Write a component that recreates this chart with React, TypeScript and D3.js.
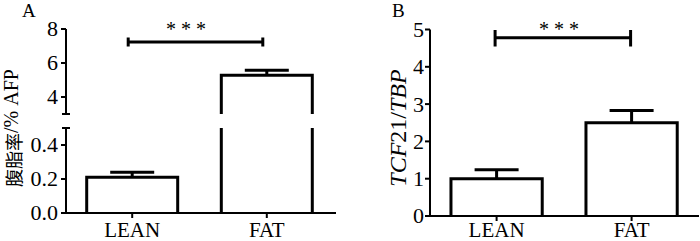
import React from "react";
import * as d3 from "d3";

const categories = ["LEAN", "FAT"];
const afpMeans = [0.21, 5.28];
const afpErrs = [0.03, 0.29];
const tcfMeans = [1.0, 2.5];
const tcfErrs = [0.24, 0.33];
const afpLowerTicks = [0.0, 0.2, 0.4];
const afpUpperTicks = [4, 6, 8];
const tcfTicks = [0, 1, 2, 3, 4, 5];

const FONT = "Liberation Serif";
const CJK = "Noto Sans CJK SC";
const SW = 3;
const TICK_FS = 22;
const CAT_FS = 21;

export default function App() {
  const xA = d3.scaleBand<string>().domain(categories).range([64.9, 334.1]).paddingInner(0.324).paddingOuter(0.162);
  const yLow = d3.scaleLinear().domain([0, 0.5]).range([213, 128]);
  const yUp = d3.scaleLinear().domain([3, 8]).range([114, 29]);
  const axA = 66;

  const xB = d3.scaleBand<string>().domain(categories).range([429.1, 699.1]).paddingInner(0.324).paddingOuter(0.162);
  const yB = d3.scaleLinear().domain([0, 5]).range([216, 29.5]);
  const axB = 430;

  const yA = (v: number) => (v <= 0.5 ? yLow(v) : yUp(v));
  const capW = 44;
  const cA = (c: string) => xA(c)! + xA.bandwidth() / 2;
  const cB = (c: string) => xB(c)! + xB.bandwidth() / 2;

  return (
    <svg width={700} height={241} style={{ position: "fixed", left: 0, top: 0, background: "#fff" }} fontFamily={FONT}>
      <rect width={700} height={241} fill="#fff" />
      <text x={22} y={17} fontSize={19} fontFamily={FONT}>A</text>
      <text x={392} y={17} fontSize={19} fontFamily={FONT}>B</text>

      {/* ===== Panel A ===== */}
      {categories.map((c, i) => {
        const x0 = xA(c)!;
        const x1 = x0 + xA.bandwidth();
        const v = afpMeans[i];
        const base = yLow(0);
        if (v <= 0.5) {
          const yt = yLow(v);
          return <path key={c} d={`M${x0},${base}V${yt}H${x1}V${base}`} fill="none" stroke="#000" strokeWidth={SW} />;
        }
        const yt = yUp(v);
        return (
          <g key={c}>
            <path d={`M${x0},${base}V${yLow(0.5)}M${x1},${base}V${yLow(0.5)}`} fill="none" stroke="#000" strokeWidth={SW} />
            <path d={`M${x0},${yUp(3)}V${yt}H${x1}V${yUp(3)}`} fill="none" stroke="#000" strokeWidth={SW} />
          </g>
        );
      })}
      {categories.map((c, i) => {
        const cx = cA(c);
        const yt = yA(afpMeans[i]);
        const ye = yA(afpMeans[i] + afpErrs[i]);
        return <path key={c} d={`M${cx},${yt}V${ye}M${cx - capW / 2},${ye}H${cx + capW / 2}`} stroke="#000" strokeWidth={SW} fill="none" />;
      })}
      <path d={`M${axA},${yUp(8)}V${yUp(3)}M${axA - 4},${yUp(3)}H${axA + 4}`} stroke="#000" strokeWidth={2} fill="none" />
      <path d={`M${axA},${yLow(0.5)}V${yLow(0)}M${axA - 4},${yLow(0.5)}H${axA + 4}`} stroke="#000" strokeWidth={2} fill="none" />
      {afpUpperTicks.map((t) => (
        <g key={"u" + t}>
          <line x1={axA - 5} x2={axA} y1={yUp(t)} y2={yUp(t)} stroke="#000" strokeWidth={2} />
          <text x={axA - 8} y={yUp(t)} dy="0.34em" textAnchor="end" fontSize={TICK_FS} fontFamily={FONT}>{t}</text>
        </g>
      ))}
      {afpLowerTicks.map((t) => (
        <g key={"l" + t}>
          <line x1={axA - 5} x2={axA} y1={yLow(t)} y2={yLow(t)} stroke="#000" strokeWidth={2} />
          <text x={axA - 8} y={yLow(t)} dy="0.34em" textAnchor="end" fontSize={TICK_FS} fontFamily={FONT}>{t.toFixed(1)}</text>
        </g>
      ))}
      <line x1={61} x2={336} y1={yLow(0)} y2={yLow(0)} stroke="#000" strokeWidth={2} />
      {categories.map((c) => (
        <g key={c}>
          <line x1={cA(c)} x2={cA(c)} y1={yLow(0)} y2={yLow(0) + 5} stroke="#000" strokeWidth={2} />
          <text x={cA(c)} y={236.5} textAnchor="middle" fontSize={CAT_FS} fontFamily={FONT}>{c}</text>
        </g>
      ))}
      <text transform="translate(21,128) rotate(-90)" textAnchor="middle" fontSize={20} fontFamily={FONT}>
        <tspan fontFamily={CJK} fontSize={18}>腹脂率</tspan>
        <tspan fontFamily={FONT} dy={-3}>/% AFP</tspan>
      </text>
      <path d={`M${cA(categories[0]) - 4},42H${cA(categories[1]) - 4}M${cA(categories[0]) - 4},37.5V46.5M${cA(categories[1]) - 4},37.5V46.5`} stroke="#000" strokeWidth={3} fill="none" />
      <text x={186} y={36} textAnchor="middle" fontSize={20} fontFamily={FONT}>* * *</text>

      {/* ===== Panel B ===== */}
      {categories.map((c, i) => {
        const x0 = xB(c)!;
        const x1 = x0 + xB.bandwidth();
        const base = yB(0);
        const yt = yB(tcfMeans[i]);
        return <path key={c} d={`M${x0},${base}V${yt}H${x1}V${base}`} fill="none" stroke="#000" strokeWidth={SW} />;
      })}
      {categories.map((c, i) => {
        const cx = cB(c);
        const yt = yB(tcfMeans[i]);
        const ye = yB(tcfMeans[i] + tcfErrs[i]);
        return <path key={c} d={`M${cx},${yt}V${ye}M${cx - capW / 2},${ye}H${cx + capW / 2}`} stroke="#000" strokeWidth={SW} fill="none" />;
      })}
      <line x1={axB} x2={axB} y1={yB(5)} y2={yB(0)} stroke="#000" strokeWidth={2} />
      {tcfTicks.map((t) => (
        <g key={"b" + t}>
          <line x1={axB - 5} x2={axB} y1={yB(t)} y2={yB(t)} stroke="#000" strokeWidth={2} />
          <text x={axB - 6} y={yB(t)} dy="0.34em" textAnchor="end" fontSize={TICK_FS} fontFamily={FONT}>{t}</text>
        </g>
      ))}
      <line x1={426} x2={699} y1={yB(0)} y2={yB(0)} stroke="#000" strokeWidth={2} />
      {categories.map((c) => (
        <g key={c}>
          <line x1={cB(c)} x2={cB(c)} y1={yB(0)} y2={yB(0) + 5} stroke="#000" strokeWidth={2} />
          <text x={cB(c)} y={236.5} textAnchor="middle" fontSize={CAT_FS} fontFamily={FONT}>{c}</text>
        </g>
      ))}
      <text transform="translate(406,128) rotate(-90)" textAnchor="middle" fontSize={24} fontFamily={FONT}>
        <tspan fontStyle="italic">TCF</tspan>
        <tspan>21/</tspan>
        <tspan fontStyle="italic">TBP</tspan>
      </text>
      <path d={`M${cB(categories[0]) - 1.5},37.7H${cB(categories[1]) - 1}M${cB(categories[0]) - 1.5},30V46.5M${cB(categories[1]) - 1},30V46.5`} stroke="#000" strokeWidth={3} fill="none" />
      <text x={559} y={36} textAnchor="middle" fontSize={20} fontFamily={FONT}>* * *</text>
    </svg>
  );
}
